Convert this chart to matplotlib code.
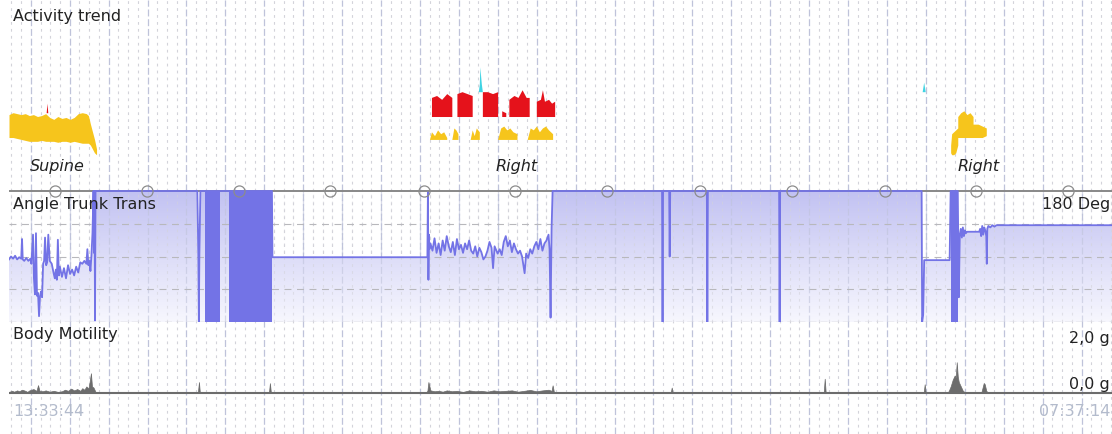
import numpy as np
import matplotlib
matplotlib.use("Agg")
import matplotlib.pyplot as plt
from matplotlib.colors import LinearSegmentedColormap

plt.rcParams['font.family'] = ['DejaVu Sans']
plt.rcParams['lines.scale_dashes'] = False

# recording span in minutes (13:33:44 -> 07:37:14)
T_END = 1083.5
start_label = "13:33:44"
end_label = "07:37:14"

# activity trend (level 0..100 above the position line)
sup_t = [0, 4, 8, 12, 16, 20, 24, 28, 32, 36, 40, 44, 48, 52, 56, 60, 64, 68, 72, 76, 78, 80, 82, 84, 86]
sup_top = [40, 41, 40.5, 40, 40.5, 39.5, 40, 39, 39.5, 40.5, 38.5, 37.5, 39, 38, 38.5, 37.5, 38.5, 40.5, 41, 40.5, 39.5, 35, 31, 27, 22]
sup_bot = [28, 28, 27.5, 27, 26.5, 26, 26, 26, 26.5, 26, 26, 26, 25.5, 26, 26, 25.5, 26, 25.5, 25, 25, 25, 24, 22, 20, 19]

red_t = [36.5, 37.3, 38.1,
         415, 415, 420, 425, 430, 435, 435, 440, 440, 445, 450, 455, 455, 465, 465, 470, 475,
         480, 480, 484, 484, 488, 488, 491, 491, 496, 500, 504, 508, 511, 511, 518, 518, 522, 524,
         526, 530, 533, 536, 536]
red_top = [41, 46, 41,
           39, 49, 50, 48, 51, 49, 39, 39, 51, 52, 51, 50, 39, 39, 52, 52, 51, 52,
           39, 39, 42, 41, 39, 39, 48, 50, 49, 53, 49, 49, 39, 39, 47, 48, 53,
           47, 48, 46, 47, 39]
red_base = [41, 41, 41] + [39] * 40

yel2_t = [413, 415, 418, 421, 424, 427, 430, 430, 435, 437, 439, 441, 441, 453, 455, 457, 459, 462, 462,
          480, 483, 486, 489, 492, 495, 499, 499, 509, 512, 515, 518, 521, 524, 527, 530, 534, 534]
yel2_top = [27, 31, 29, 32, 30, 31, 28, 27, 27, 33, 32, 30, 27, 27, 32, 29, 33, 31, 27,
            27, 33, 34, 32, 33, 31, 30, 27, 27, 33, 32, 34, 31, 33, 34, 32, 30, 27]
yel2_base = 27

yel3_t = [925, 926, 928, 930, 932, 932, 935, 938, 941, 944, 947, 947, 952, 956, 960]
yel3_top = [24, 30, 31, 32, 33, 39, 41, 42, 40, 41, 39, 35, 35, 34, 33]
yel3_bot = [20, 19, 19, 20, 24, 28, 28, 28, 28, 28, 28, 28, 28, 28, 29]

cyan_t = [461, 462, 462.5, 464, 465, 897, 898.5, 900]
cyan_top = [52, 56, 65, 56, 52, 52, 57, 52]
cyan_base = 52

pos_labels = ["Supine", "Right", "Right"]
pos_t = [47.5, 499, 952.5]
circle_t = [45.2, 135.5, 225.9, 315.2, 407.5, 496.9, 587.2, 678.6, 769, 860.4, 949.8, 1040]

# angle trunk trans (degrees)
ang_t = [0, 2, 4, 6, 8, 10, 12, 12.8, 13.5, 15,
         17, 19, 21, 22, 23.6, 24.5, 25.5, 26.5, 27.5, 28.5,
         29.5, 30.5, 31.5, 32.5, 33.5, 34.5, 35.4, 36.5, 37.5, 38.6,
         40, 42, 44, 45, 46, 47, 48, 49, 50, 52,
         54, 56, 58, 60, 62, 64, 66, 68, 70, 72,
         74, 76, 77, 78, 79, 80, 81, 82, 83, 83.5,
         84, 84.5, 85,
         185, 186, 186.5, 187, 188, 258.3, 258.8,
         411, 411.5, 412, 412.5, 413, 414, 416, 418, 420, 422,
         424, 426, 428, 430, 432, 434, 436, 438, 440, 442,
         444, 446, 448, 450, 452, 454, 456, 458, 460, 462,
         464, 466, 468, 470, 472, 474, 475.5, 477, 480, 482,
         484, 486, 488, 490, 492, 494, 496, 498, 500, 502,
         504, 506.5, 508, 510, 512, 514, 516, 518, 520, 522,
         524, 526, 528, 530, 531, 532, 533, 534,
         641.5, 642, 642.5, 648.5, 649, 649.5, 685.5, 686, 686.5, 756.5,
         757, 757.5, 896.5, 897, 898, 899, 924, 925,
         932, 933, 934, 935, 936, 937, 938, 939, 940, 941,
         944, 947, 950, 953, 954, 955, 956, 957, 958, 959,
         960, 960.5, 961, 962, 964, 966, 968, 970, 973, 1083.5]
ang_deg = [86, 90, 87, 91, 86, 89, 87, 114, 86, 84,
           88, 84, 87, 80, 120, 60, 38, 122, 36, 40,
           8, 36, 42, 34, 80, 84, 116, 78, 82, 120,
           84, 80, 66, 60, 72, 58, 113, 64, 76, 62,
           74, 60, 78, 66, 72, 64, 76, 68, 82, 80,
           84, 80, 100, 78, 84, 70, 92, 122, 180, 95,
           180, 2, 180,
           180, 92, 0, 92, 180, 180, 89,
           89, 178, 58, 120, 100, 108, 98, 115, 95, 108,
           92, 112, 98, 118, 104, 96, 110, 92, 114, 100,
           106, 95, 108, 100, 112, 98, 94, 104, 90, 102,
           96, 86, 90, 98, 110, 102, 74, 104, 94, 100,
           92, 110, 118, 104, 112, 96, 108, 100, 94, 98,
           90, 67, 94, 88, 100, 94, 104, 110, 100, 114,
           98, 108, 112, 120, 100, 6, 130, 180,
           180, 0, 180, 180, 90, 180, 180, 0, 180, 180,
           0, 180, 180, 0, 10, 85, 85, 180,
           180, 34, 120, 128, 116, 130, 118, 126, 122, 124,
           124, 124, 124, 124, 128, 118, 132, 120, 130, 126,
           118, 80, 128, 132, 130, 133, 131, 133, 133, 133]
burst_start = [192.5, 216.5, 925.5]
burst_end = [207.2, 258.3, 932]

# body motility (g)
mot_t = [0, 3, 5, 8, 10, 13, 16, 18, 20, 24,
         27, 28.5, 30, 33, 36, 40, 44, 48, 52, 55,
         58, 61, 64, 67, 70, 72, 74, 76, 78, 79,
         80.5, 81.5, 83, 85, 86, 185.5, 186.6, 187.5, 215, 216,
         217, 255.3, 256.3, 257.3, 409, 411, 412, 414, 418, 422,
         426, 430, 435, 440, 446, 452, 458, 464, 470, 476,
         482, 488, 494, 500, 506, 512, 518, 524, 530, 533,
         534, 535.5, 585, 586, 587, 650, 651, 652, 700, 701,
         702, 738, 739, 740, 800.3, 801.3, 802.3, 898.5, 899.5, 900.5,
         921, 923, 925, 927, 929, 930, 931, 932, 933, 935,
         937, 940, 955, 957.5, 958.5, 960, 962, 1083.5]
mot_g = [0.05, 0.1, 0.06, 0.12, 0.08, 0.15, 0.1, 0.05, 0.12, 0.18,
         0.1, 0.36, 0.1, 0.08, 0.12, 0.06, 0.1, 0.05, 0.08, 0.15,
         0.1, 0.2, 0.12, 0.18, 0.1, 0.22, 0.15, 0.3, 0.2, 0.45,
         0.9, 0.3, 0.25, 0.05, 0, 0, 0.5, 0, 0, 0.05,
         0, 0, 0.45, 0, 0, 0.1, 0.5, 0.12, 0.08, 0.1,
         0.06, 0.12, 0.08, 0.1, 0.05, 0.12, 0.08, 0.1, 0.06, 0.12,
         0.08, 0.1, 0.12, 0.06, 0.1, 0.14, 0.08, 0.12, 0.15, 0.1,
         0.35, 0, 0, 0.06, 0, 0, 0.25, 0, 0, 0.06,
         0, 0, 0.05, 0, 0, 0.65, 0, 0, 0.4, 0,
         0, 0.08, 0.3, 0.6, 0.8, 0.7, 1.4, 0.75, 0.5, 0.3,
         0.1, 0, 0, 0.45, 0.4, 0.1, 0, 0]

YELLOW = '#f6c51c'
RED = '#e5121b'
CYAN = '#3fd3e3'
BLUE = '#7373e6'
GREY = '#6c6c6c'
TXT = '#222222'
FS = 11.5

W, H = 1112, 434
fig = plt.figure(figsize=(W / 100, H / 100), dpi=100)


def panel(top, bottom):
    ax = fig.add_axes([9 / W, 1 - bottom / H, 1103 / W, (bottom - top) / H])
    ax.set_xlim(0, T_END)
    ax.set_axis_off()
    return ax


def vgrid(ax, alpha=1.0, z=0):
    step = 38.23
    majors = np.arange(21.4, T_END, step)
    for x in np.arange(21.4 - step, T_END, step / 4):
        if np.min(np.abs(majors - x)) > 1:
            ax.axvline(x, color='#d3d3da', lw=0.8, ls=(0, (2, 3)), alpha=alpha, zorder=z)
    for x in majors:
        ax.axvline(x, color='#bfc3da', lw=0.9, ls=(0, (5, 2)), alpha=alpha, zorder=z)


# vertical grid behind everything
bg = panel(0, H)
bg.set_ylim(0, 1)
vgrid(bg)

# activity trend
act = panel(0, 191)
act.set_ylim(0, 100)
act.fill_between(sup_t, sup_bot, sup_top, color=YELLOW, lw=0)
act.fill_between(yel2_t, yel2_base, yel2_top, color=YELLOW, lw=0)
act.fill_between(yel3_t, yel3_bot, yel3_top, color=YELLOW, lw=0)
act.fill_between(red_t, red_base, red_top, color=RED, lw=0)
act.fill_between(cyan_t, cyan_base, cyan_top, color=CYAN, lw=0)
for lab, t in zip(pos_labels, pos_t):
    act.text(t, 12.6, lab, style='italic', ha='center', va='center', fontsize=FS, color=TXT)

# angle trunk trans
ang = panel(189, 322)
ang.set_ylim(0, 182.75)
poly = ang.fill_between(ang_t, 0, ang_deg, facecolor='none', edgecolor='none')
cmap = LinearSegmentedColormap.from_list('fade', ['#f7f7fe', '#c2c2f2'])
grad = np.linspace(0, 1, 256).reshape(-1, 1)
im = ang.imshow(grad, extent=[0, T_END, 0, 180], origin='lower', aspect='auto',
                cmap=cmap, zorder=1)
im.set_clip_path(poly.get_paths()[0], transform=ang.transData)
ang.set_xlim(0, T_END)
ang.set_ylim(0, 182.75)
vgrid(ang, alpha=0.6, z=1.5)
for v in [45, 90, 135]:
    ang.axhline(v, color='#b8b8bc', lw=0.8, ls=(0, (5, 4)), zorder=1.6)
ang.axhline(0, color='#a8a8ac', lw=0.9, ls=(0, (5, 3)), zorder=1.6)
ang.axhline(180, color='#888888', lw=1.4, zorder=2)
ang.plot(ang_t, ang_deg, color=BLUE, lw=1.3, zorder=3)
for s, e in zip(burst_start, burst_end):
    ang.fill_between([s, e], 0, 180, color=BLUE, lw=0, zorder=3)
ang.plot(circle_t, [180] * len(circle_t), 'o', ms=8, mfc='none', mec='#8c8c8c',
         mew=0.9, zorder=4, clip_on=False)

# body motility
mot = panel(322, 395)
mot.set_ylim(-0.09, 3.23)
mot.fill_between(mot_t, 0, mot_g, color=GREY, lw=0.5)
mot.axhline(0, color=GREY, lw=1.5)

# texts
fig.text(13 / W, 1 - 17 / H, "Activity trend", va='center', fontsize=FS, color=TXT)
fig.text(13 / W, 1 - 205 / H, "Angle Trunk Trans", va='center', fontsize=FS, color=TXT)
fig.text(1110 / W, 1 - 205 / H, "180 Deg", va='center', ha='right', fontsize=FS, color=TXT)
fig.text(13 / W, 1 - 335 / H, "Body Motility", va='center', fontsize=FS, color=TXT)
fig.text(1110 / W, 1 - 339 / H, "2,0 g", va='center', ha='right', fontsize=FS, color=TXT)
fig.text(1110 / W, 1 - 385 / H, "0,0 g", va='center', ha='right', fontsize=FS, color=TXT)
fig.text(13 / W, 1 - 411 / H, start_label, va='center', fontsize=FS, color='#b3bbcc')
fig.text(1110 / W, 1 - 411 / H, end_label, va='center', ha='right', fontsize=FS, color='#b3bbcc')

fig.savefig('out.png', dpi=100)
